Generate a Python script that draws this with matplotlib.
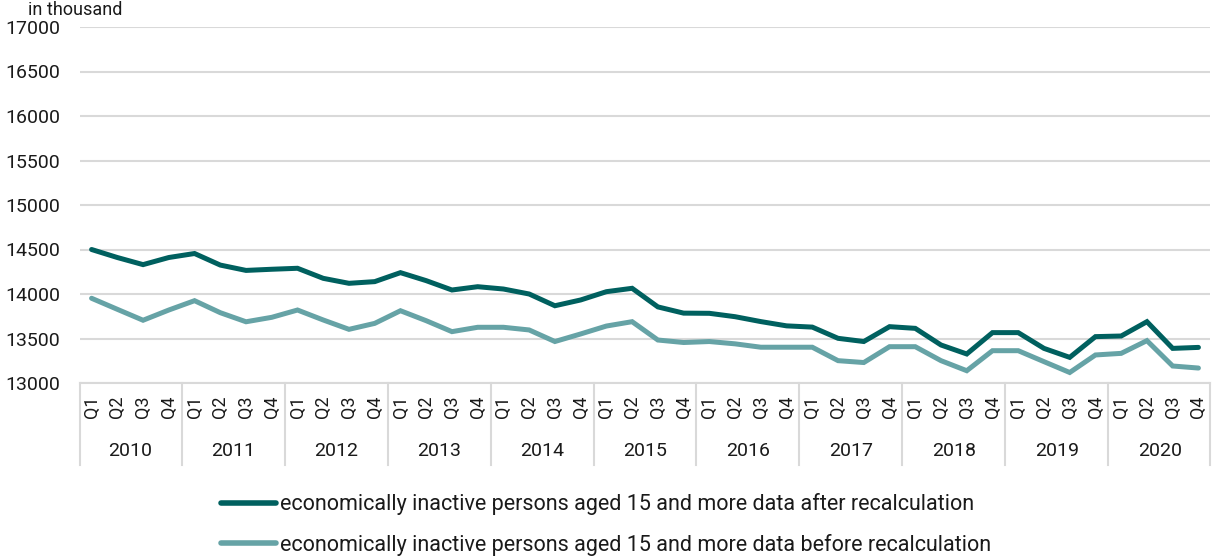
import matplotlib
matplotlib.use("Agg")
import matplotlib.pyplot as plt
import matplotlib.transforms as mtransforms
import numpy as np

plt.rcParams["font.family"] = ["Roboto", "DejaVu Sans"]

YEARS = ["2010", "2011", "2012", "2013", "2014", "2015",
         "2016", "2017", "2018", "2019", "2020"]
QUARTERS = ["Q1", "Q2", "Q3", "Q4"]

AFTER = [
    14500, 14410, 14330, 14410,
    14455, 14325, 14265, 14278,
    14289, 14176, 14120, 14139,
    14240, 14150, 14045, 14082,
    14056, 14000, 13868, 13933,
    14026, 14064, 13855, 13785,
    13783, 13745, 13690, 13642,
    13628, 13502, 13466, 13633,
    13614, 13427, 13326, 13566,
    13566, 13389, 13288, 13521,
    13528, 13689, 13389, 13400,
]

BEFORE = [
    13952, 13828, 13705, 13820,
    13925, 13790, 13688, 13738,
    13820, 13708, 13603, 13670,
    13812, 13700, 13577, 13626,
    13626, 13596, 13466, 13551,
    13640, 13689, 13483, 13455,
    13466, 13440, 13402, 13402,
    13402, 13251, 13230, 13408,
    13408, 13251, 13138, 13363,
    13363, 13240, 13118, 13315,
    13333, 13476, 13191, 13168,
]

LABEL_AFTER = "economically inactive persons aged 15 and more data after recalculation"
LABEL_BEFORE = "economically inactive persons aged 15 and more data before recalculation"

DARK = "#00605F"
LIGHT = "#66A3A6"
GRID = "#D9D9D9"
TEXT = "#1A1A1A"

fig = plt.figure(figsize=(12.12, 5.6), dpi=100)
ax = fig.add_axes([80 / 1212, 1 - 383 / 560, (1210 - 80) / 1212, (383 - 27) / 560])

x = np.arange(len(AFTER))
ax.plot(x, AFTER, color=DARK, linewidth=3.6, solid_capstyle="round",
        solid_joinstyle="miter", label=LABEL_AFTER, zorder=3)
ax.plot(x, BEFORE, color=LIGHT, linewidth=3.6, solid_capstyle="round",
        solid_joinstyle="miter", label=LABEL_BEFORE, zorder=3)

ax.set_ylim(13000, 17000)
ax.set_yticks(np.arange(13000, 17001, 500))
ax.set_xlim(-0.45, len(AFTER) - 0.55)
ax.set_xticks([])
ax.grid(axis="y", color=GRID, linewidth=1.5)
ax.set_axisbelow(True)
for s in ["top", "right", "left"]:
    ax.spines[s].set_visible(False)
ax.spines["bottom"].set_color(GRID)
ax.spines["bottom"].set_linewidth(1.5)
ax.tick_params(axis="y", length=0, pad=14, labelsize=14, labelcolor=TEXT)

# two-level category axis: quarters, then years with separators
trans = mtransforms.blended_transform_factory(ax.transData, fig.transFigure)
y_top = 1 - 383 / 560
y_bot = 1 - 465 / 560
for i in range(len(YEARS) + 1):
    xb = i * 4 - 0.5
    if i == 0:
        xb = -0.45
    if i == len(YEARS):
        xb = len(AFTER) - 0.55
    ax.plot([xb, xb], [y_top, y_bot], color=GRID, linewidth=1.5,
            transform=trans, clip_on=False)
for i, yr in enumerate(YEARS):
    ax.text(i * 4 + 1.5, 1 - 451 / 560, yr, transform=trans,
            ha="center", va="center", fontsize=14, color=TEXT)
    for j, q in enumerate(QUARTERS):
        ax.text(i * 4 + j, 1 - 407 / 560, q, transform=trans, rotation=90,
                ha="center", va="center", fontsize=13, color=TEXT)

fig.text(28 / 1212, 1 - 1 / 560, "in thousand", ha="left", va="top",
         fontsize=13, color=TEXT)

leg = fig.legend(loc="upper center", bbox_to_anchor=(0.5, 1 - 474 / 560),
                 ncol=1, frameon=False, fontsize=15.5, handlelength=2.55,
                 handletextpad=0.15, labelspacing=0.85, labelcolor=TEXT)
for line in leg.get_lines():
    line.set_linewidth(4)

fig.savefig("out.png", dpi=100)
